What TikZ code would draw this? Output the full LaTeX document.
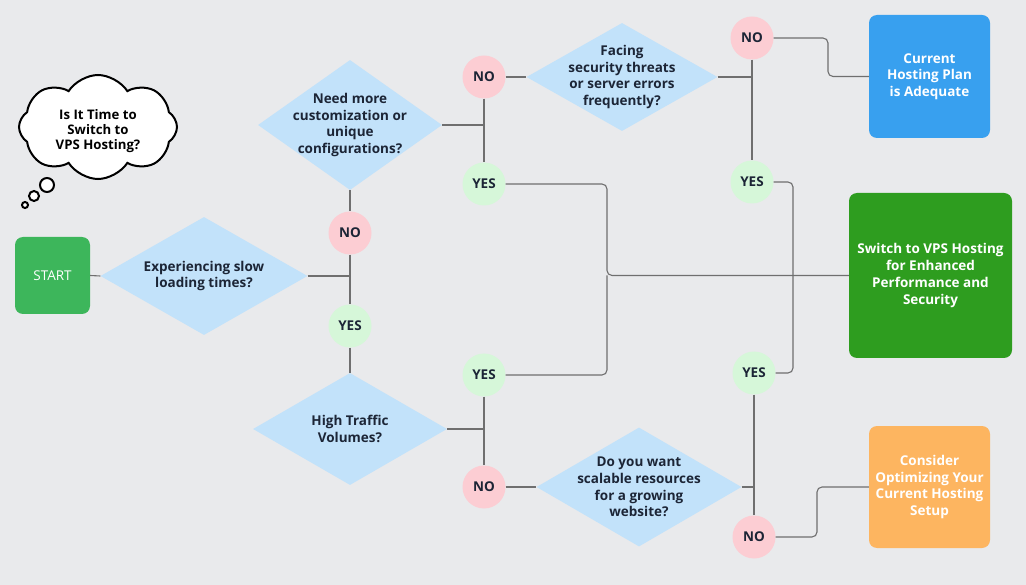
\documentclass[tikz,border=0pt]{standalone}
\usepackage{fontspec}
\setmainfont{Open Sans}
\usetikzlibrary{shapes.geometric,shapes.symbols}
\definecolor{bgc}{HTML}{E9EAEC}
\definecolor{linec}{HTML}{6F6F6F}
\definecolor{diac}{HTML}{C2E2FA}
\definecolor{txt}{HTML}{1C2536}
\definecolor{yesfill}{HTML}{D6F7D9}
\definecolor{nofill}{HTML}{FCCDD3}
\definecolor{startc}{HTML}{3DB65B}
\definecolor{bluec}{HTML}{38A0EF}
\definecolor{greenc}{HTML}{2E9D1F}
\definecolor{orangec}{HTML}{FDB560}
\begin{document}
\begin{tikzpicture}[x=1pt,y=-1pt,
  conn/.style={draw=linec, line width=1.1pt, rounded corners=5pt},
  dia/.style={diamond, fill=diac, inner sep=0pt},
  dtext/.style={font=\bfseries\fontsize{13.5}{16.7}\selectfont, text=txt, align=center},
  yesnode/.style={circle, fill=yesfill, minimum size=43pt, inner sep=0pt, font=\bfseries\fontsize{13.5}{14}\selectfont, text=txt},
  nonode/.style={circle, fill=nofill, minimum size=43pt, inner sep=0pt, font=\bfseries\fontsize{13.5}{14}\selectfont, text=txt},
  endbox/.style={rounded corners=8pt, text=white, font=\bfseries\fontsize{13.5}{16.7}\selectfont, align=center, inner sep=0pt},
  bubble/.style={circle, draw=black, fill=white, line width=2pt, inner sep=0pt}
]
\fill[bgc] (0,0) rectangle (1026,585);
\useasboundingbox (0,0) rectangle (1026,585);

% thought cloud
\node[cloud, cloud puffs=8, cloud puff arc=115, aspect=1.45, draw=black, fill=white, line width=2pt, minimum width=158pt, minimum height=104pt, inner sep=0pt] (cloud) at (98,127) {};
\node[font=\bfseries\fontsize{13.2}{15}\selectfont, text=black, align=center] (cloudt) at (98,131) {Is It Time to\\Switch to\\VPS Hosting?};
\node[bubble, minimum size=14pt] (b1) at (47,185) {};
\node[bubble, minimum size=10pt] (b2) at (34,196) {};
\node[bubble, minimum size=6pt] (b3) at (25,205) {};

% start
\node[endbox, fill=startc, minimum width=75pt, minimum height=77pt, font=\fontsize{13.5}{16}\selectfont] (start) at (52.5,275.5) {START};

% diamonds
\node[dia, minimum width=207pt, minimum height=118pt] (d1) at (204,276) {};
\node[dtext] (d1t) at (204,276) {Experiencing slow\\loading times?};
\node[dia, minimum width=184pt, minimum height=130pt] (d2) at (350,125) {};
\node[dtext] (d2t) at (350,125) {Need more\\customization or\\unique\\configurations?};
\node[dia, minimum width=194pt, minimum height=112pt] (d3) at (350,429) {};
\node[dtext] (d3t) at (350,429) {High Traffic\\Volumes?};
\node[dia, minimum width=191pt, minimum height=108pt] (d4) at (622,77) {};
\node[dtext] (d4t) at (622,77) {Facing\\security threats\\or server errors\\frequently?};
\node[dia, minimum width=205pt, minimum height=119pt] (d5) at (639,487) {};
\node[dtext] (d5t) at (639,487) {Do you want\\scalable resources\\for a growing\\website?};

% yes/no circles
\node[nonode] (no1) at (350,233) {NO};
\node[yesnode] (yes1) at (350,326) {YES};
\node[nonode] (no2) at (484,77) {NO};
\node[yesnode] (yes2) at (484,184) {YES};
\node[yesnode] (yes3) at (484,375) {YES};
\node[nonode] (no3) at (484,487) {NO};
\node[nonode] (no4) at (752,38) {NO};
\node[yesnode] (yes4) at (752,182) {YES};
\node[yesnode] (yes5) at (754,373) {YES};
\node[nonode] (no5) at (754,537) {NO};

% outcome boxes
\node[endbox, fill=bluec, minimum width=121pt, minimum height=123pt] (blue) at (929.5,76.5) {Current\\Hosting Plan\\is Adequate};
\node[endbox, fill=greenc, minimum width=163pt, minimum height=165pt] (green) at (930.5,275.5) {Switch to VPS Hosting\\for Enhanced\\Performance and\\Security};
\node[endbox, fill=orangec, minimum width=121pt, minimum height=122pt] (orange) at (929.5,487) {Consider\\Optimizing Your\\Current Hosting\\Setup};

% junctions and bends
\coordinate (j1) at (350,276);
\coordinate (j2) at (484,125);
\coordinate (j3) at (484,429);
\coordinate (j4) at (752,77);
\coordinate (j5) at (754,487);
\coordinate (k1) at (828,0);
\coordinate (k2) at (607,0);
\coordinate (k3) at (793,0);
\coordinate (k4) at (817,0);

% connectors
\draw[conn] (start.east) -- (d1.west);
\draw[conn] (d1.east) -- (j1);
\draw[conn] (no1.south) -- (yes1.north);
\draw[conn] (d2.south) -- (no1.north);
\draw[conn] (yes1.south) -- (d3.north);
\draw[conn] (d2.east) -- (j2);
\draw[conn] (no2.south) -- (yes2.north);
\draw[conn] (d3.east) -- (j3);
\draw[conn] (yes3.south) -- (no3.north);
\draw[conn] (no2.east) -- (d4.west);
\draw[conn] (no3.east) -- (d5.west);
\draw[conn] (d4.east) -- (j4);
\draw[conn] (no4.south) -- (yes4.north);
\draw[conn] (d5.east) -- (j5);
\draw[conn] (yes5.south) -- (no5.north);
\draw[conn] (no4.east) -- (no4.east -| k1) -- (blue.west -| k1) -- (blue.west);
\draw[conn] (yes2.east) -- (yes2.east -| k2) -- (green.west -| k2) -- (green.west);
\draw[conn] (yes3.east) -- (yes3.east -| k2) -- (green.west -| k2);
\draw[conn] (yes4.east) -- (yes4.east -| k3) -- (green.west -| k3);
\draw[conn] (yes5.east) -- (yes5.east -| k3) -- (green.west -| k3);
\draw[conn] (no5.east) -- (no5.east -| k4) -- (orange.west -| k4) -- (orange.west);
\end{tikzpicture}
\end{document}
